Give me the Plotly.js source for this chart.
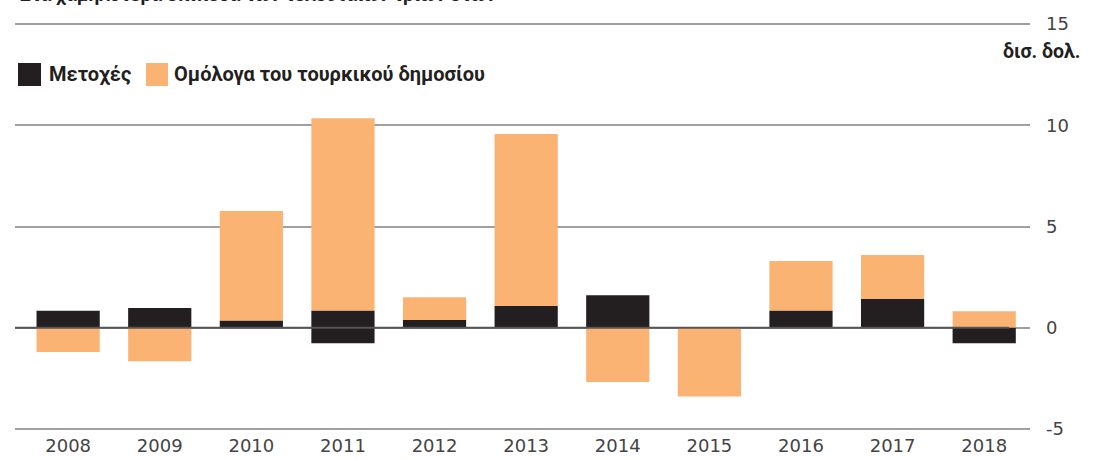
<!DOCTYPE html>
<html>
<head>
<meta charset="utf-8">
<script src="https://cdn.plot.ly/plotly-3.0.1.min.js"></script>
<style>html,body{margin:0;padding:0;background:#fff;}#chart{width:1101px;height:460px;}</style>
</head>
<body>
<div id="chart"></div>
<script>
// Data (billions of dollars)
const years = ['2008','2009','2010','2011','2012','2013','2014','2015','2016','2017','2018'];
// Shares (Μετοχές): bar bottom and top
const sharesLow  = [0, 0, 0, -0.76, 0, 0, 0, 0, 0, 0, -0.76];
const sharesHigh = [0.84, 0.97, 0.35, 0.84, 0.38, 1.07, 1.61, 0, 0.84, 1.42, 0];
// Government bonds (Ομόλογα του τουρκικού δημοσίου): bar bottom and top
const bondsLow  = [-1.2, -1.66, 0.35, 0.84, 0.38, 1.07, -2.68, -3.39, 0.84, 1.42, 0];
const bondsHigh = [0, 0, 5.76, 10.35, 1.51, 9.57, 0, 0, 3.29, 3.59, 0.82];
const yTicks = [-5, 0, 5, 10, 15];
const yTickText = ['-5', '0', '5', '10', '15'];
const seriesNames = ['Μετοχές', 'Ομόλογα του τουρκικού δημοσίου'];
const unitLabel = 'δισ. δολ.';
const titleText = 'Στα χαμηλότερα επίπεδα των τελευταίων τριών ετών';

const BLACK = '#231f20', ORANGE = '#fbb374';
const xIdx = years.map((_, i) => i);

const traces = [
  {type:'bar', name: seriesNames[1], x: xIdx, base: bondsLow,
   y: bondsHigh.map((h,i)=>h-bondsLow[i]), width: 0.69,
   marker:{color: ORANGE, line:{width:0}}, showlegend:false, hoverinfo:'skip'},
  {type:'bar', name: seriesNames[0], x: xIdx, base: sharesLow,
   y: sharesHigh.map((h,i)=>h-sharesLow[i]), width: 0.69,
   marker:{color: BLACK, line:{width:0}}, showlegend:false, hoverinfo:'skip'}
];

// plot area: top 22px, bottom 431px (409px tall), left 15, right 1030
const T = 22, B = 431, H = B - T, L = 15, W = 1015;
const px = x => (x - L) / W;
const py = y => (B - y) / H;
const boldFont = (s) => ({family:'Liberation Sans Narrow, Roboto, sans-serif', size:s, color:'#231f20', weight:700});

const layout = {
  width:1101, height:460,
  margin:{l:L, r:1101 - L - W, t:T, b:460 - B, pad:0},
  paper_bgcolor:'#fff', plot_bgcolor:'#fff',
  barmode:'overlay',
  showlegend:false,
  xaxis:{
    range:[-0.58, 10.5], tickmode:'array', tickvals:xIdx, ticktext:years,
    showgrid:false, zeroline:false, showline:false, ticks:'',
    tickfont:{family:'DejaVu Sans, sans-serif', size:18, color:'#444'},
    ticklabelstandoff:2, fixedrange:true
  },
  yaxis:{
    range:[-5.1, 15.1], side:'right', tickmode:'array', tickvals:yTicks, ticktext:yTickText,
    showgrid:true, gridcolor:'#a0a0a0', gridwidth:2, zeroline:false, showline:false, ticks:'',
    tickfont:{family:'DejaVu Sans, sans-serif', size:18, color:'#444'},
    ticklabelstandoff:15, fixedrange:true
  },
  shapes:[
    {type:'line', xref:'paper', yref:'y', x0:0, x1:px(1009), y0:0, y1:0, layer:'above',
     line:{color:'#555', width:2}},
    {type:'rect', xref:'paper', yref:'paper', x0:px(18), x1:px(41),
     y0:py(86), y1:py(63), fillcolor:BLACK, line:{width:0}},
    {type:'rect', xref:'paper', yref:'paper', x0:px(146), x1:px(168),
     y0:py(86), y1:py(63), fillcolor:ORANGE, line:{width:0}}
  ],
  annotations:[
    {xref:'paper', yref:'paper', x:px(47), y:py(74), xanchor:'left', yanchor:'middle',
     text:seriesNames[0], showarrow:false, font:boldFont(20)},
    {xref:'paper', yref:'paper', x:px(172), y:py(74), xanchor:'left', yanchor:'middle',
     text:seriesNames[1], showarrow:false, font:boldFont(20)},
    {xref:'paper', yref:'paper', x:px(1082), y:py(51), xanchor:'right', yanchor:'middle',
     text:unitLabel, showarrow:false, font:boldFont(19.5)},
    {xref:'paper', yref:'paper', x:px(18), y:py(8), xanchor:'left', yanchor:'bottom',
     text:titleText, showarrow:false, font:boldFont(19)}
  ]
};

Plotly.newPlot('chart', traces, layout, {displayModeBar:false, staticPlot:true});
</script>
</body>
</html>
